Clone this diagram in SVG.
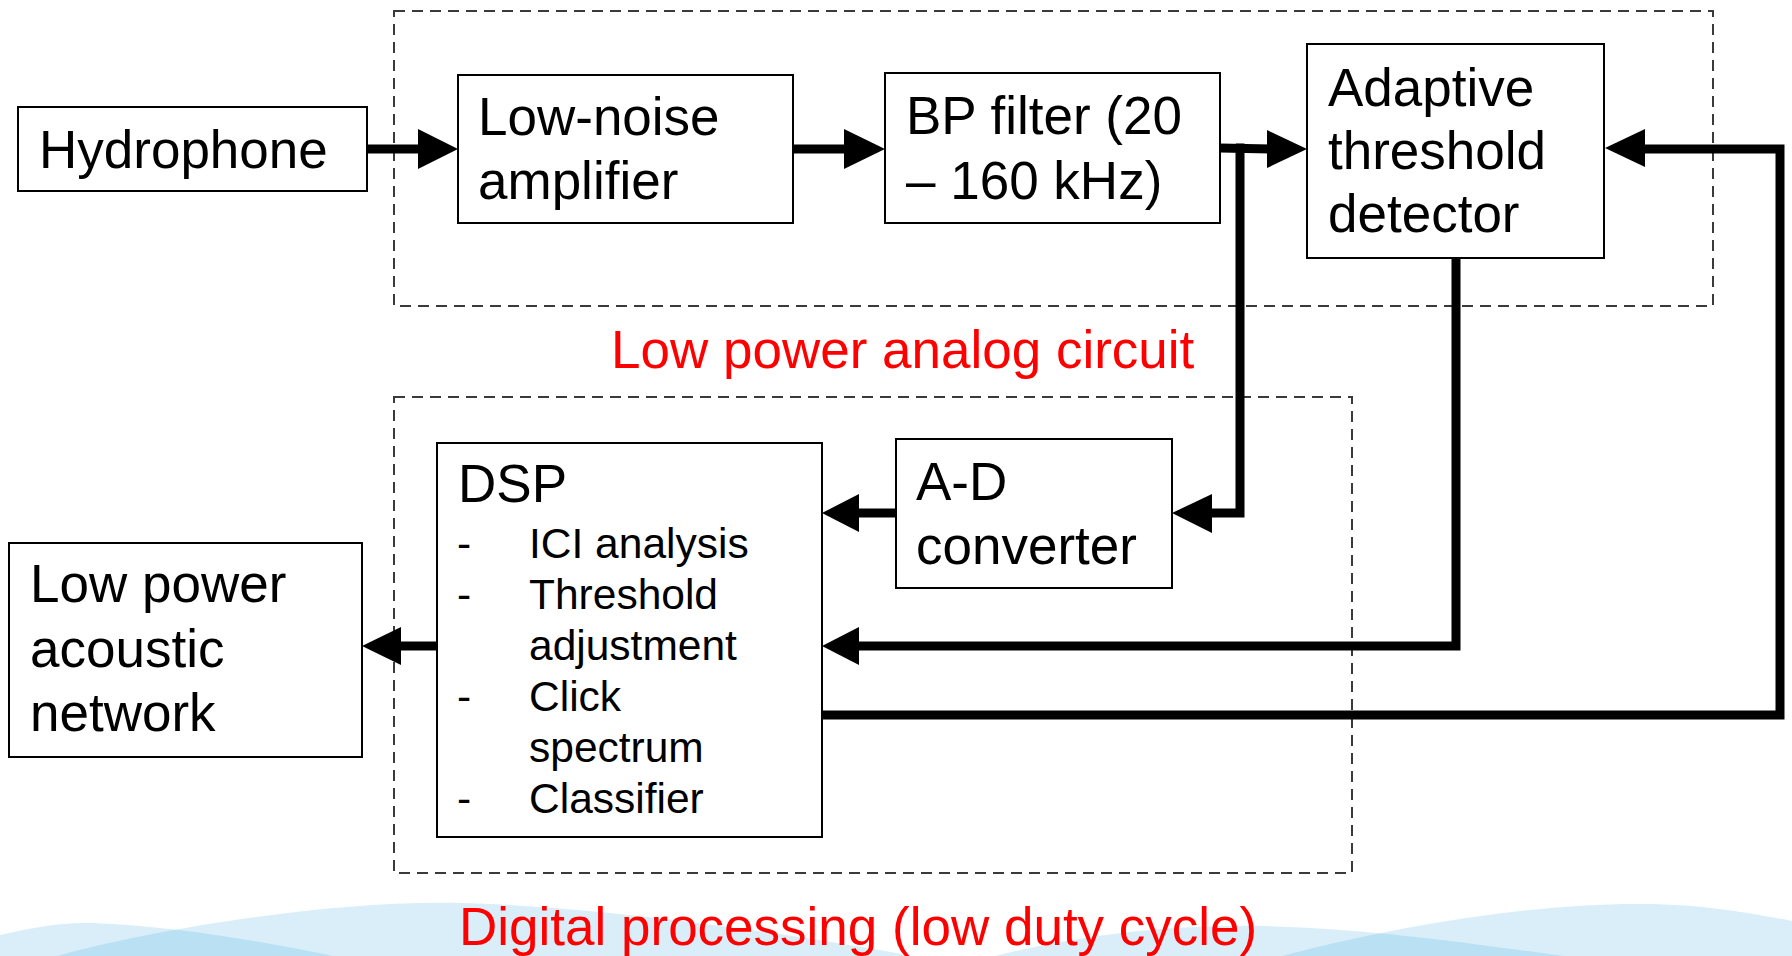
<svg xmlns="http://www.w3.org/2000/svg" width="1792" height="956" viewBox="0 0 1792 956">
<style>
.box{fill:#fff;stroke:#000;stroke-width:2}
.grp{fill:none;stroke:#3a3a3a;stroke-width:2;stroke-dasharray:11,7}
.t{font-family:"Liberation Sans",Arial,sans-serif;font-size:53px;fill:#000}
.s{font-family:"Liberation Sans",Arial,sans-serif;font-size:42.5px;fill:#000}
.red{font-family:"Liberation Sans",Arial,sans-serif;font-size:53px;fill:#ff0000}
.ln{fill:none;stroke:#000;stroke-width:9}
.hd{fill:#000}
.wave{fill:#41aae1;fill-opacity:0.2}
</style>
<g id="background">
<path class="wave" d="M0,935 C30,928 60,922 92,923 C180,926 280,945 333,956 L0,956 Z"/>
<path class="wave" d="M57,956 C150,930 330,900 459,903 C600,906 800,935 912,956 Z"/>
<path class="wave" d="M995,956 C1080,935 1170,924 1265,926 C1380,929 1480,945 1564,956 Z"/>
<path class="wave" d="M1282,956 C1400,925 1540,902 1650,904 C1710,905 1760,915 1792,921 L1792,956 Z"/>
</g>
<g id="analog-group">
<rect class="grp" x="394" y="11" width="1319" height="295"/>
<text class="red" x="611" y="368">Low power analog circuit</text>
</g>
<g id="digital-group">
<rect class="grp" x="394" y="397" width="958" height="476"/>
<text class="red" x="459" y="945">Digital processing (low duty cycle)</text>
</g>
<g id="connectors">
<line class="ln" x1="367" y1="149" x2="422" y2="149"/>
<polygon class="hd" points="418,129 458,149 418,169"/>
<line class="ln" x1="793" y1="149" x2="848" y2="149"/>
<polygon class="hd" points="844,129 885,149 844,169"/>
<line class="ln" x1="1220" y1="148" x2="1271" y2="149"/>
<polygon class="hd" points="1267,130 1307,149 1267,168"/>
<path class="ln" d="M1236,148 H1240 V513 H1208"/>
<polygon class="hd" points="1212,494 1172,513 1212,533"/>
<line class="ln" x1="896" y1="513" x2="855" y2="513"/>
<polygon class="hd" points="859,494 822,513 859,532"/>
<path class="ln" d="M1456,258 V646 H855"/>
<polygon class="hd" points="859,627 822,646 859,665"/>
<path class="ln" d="M822,715 H1780 V149 H1641"/>
<polygon class="hd" points="1645,129 1605,148 1645,167"/>
<line class="ln" x1="437" y1="646" x2="397" y2="646"/>
<polygon class="hd" points="401,627 362,646 401,665"/>
</g>
<g id="hydrophone">
<rect class="box" x="18" y="107" width="349" height="84"/>
<text class="t" x="39" y="168">Hydrophone</text>
</g>
<g id="lna">
<rect class="box" x="458" y="75" width="335" height="148"/>
<text class="t" x="478" y="135">Low-noise</text>
<text class="t" x="478" y="199">amplifier</text>
</g>
<g id="bp-filter">
<rect class="box" x="885" y="73" width="335" height="150"/>
<text class="t" x="906" y="134">BP filter (20</text>
<text class="t" x="906" y="199">– 160 kHz)</text>
</g>
<g id="threshold-detector">
<rect class="box" x="1307" y="44" width="297" height="214"/>
<text class="t" x="1328" y="106">Adaptive</text>
<text class="t" x="1328" y="169">threshold</text>
<text class="t" x="1328" y="232">detector</text>
</g>
<g id="ad-converter">
<rect class="box" x="896" y="439" width="276" height="149"/>
<text class="t" x="916" y="500">A-D</text>
<text class="t" x="916" y="564">converter</text>
</g>
<g id="dsp">
<rect class="box" x="437" y="443" width="385" height="394"/>
<text class="t" x="458" y="502">DSP</text>
<text class="s" x="457" y="558">-</text>
<text class="s" x="529" y="558">ICI analysis</text>
<text class="s" x="457" y="609">-</text>
<text class="s" x="529" y="609">Threshold</text>
<text class="s" x="529" y="660">adjustment</text>
<text class="s" x="457" y="711">-</text>
<text class="s" x="529" y="711">Click</text>
<text class="s" x="529" y="762">spectrum</text>
<text class="s" x="457" y="813">-</text>
<text class="s" x="529" y="813">Classifier</text>
</g>
<g id="acoustic-network">
<rect class="box" x="9" y="543" width="353" height="214"/>
<text class="t" x="30" y="602">Low power</text>
<text class="t" x="30" y="667">acoustic</text>
<text class="t" x="30" y="731">network</text>
</g>
</svg>
